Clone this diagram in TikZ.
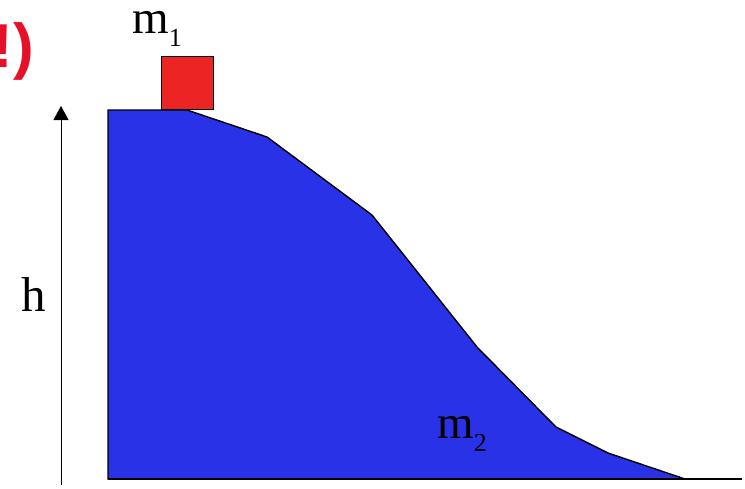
\documentclass[tikz,border=0pt]{standalone}
\usepackage{fontspec}
\setmainfont{Liberation Serif}
\newfontfamily\alertfont{Liberation Sans}
\usetikzlibrary{arrows.meta}
\definecolor{slopeblue}{RGB}{42,50,232}
\definecolor{blockred}{RGB}{236,36,36}
\definecolor{alertred}{RGB}{230,16,40}
\newcommand{\masslabel}[1]{m\raisebox{-13pt}{\fontsize{26}{26}\selectfont #1}}
\tikzset{
  lbl/.style={anchor=base west,inner sep=0pt,font=\fontsize{47}{47}\selectfont},
  outline/.style={draw=black,line width=1.4pt,line join=miter}
}
\begin{document}
\begin{tikzpicture}[x=1pt,y=-1pt]
\useasboundingbox (0,0) rectangle (745,488);
% hill
\fill[slopeblue,outline] (108,110) -- (187,110) -- (267,137) -- (372,215) -- (477,347)
  -- (556,427) -- (608,453) -- (685,479) -- (108,479) -- cycle;
\draw[line width=1.4pt] (108,479) -- (742,479);
% block on top
\node[fill=blockred,outline,anchor=south west,inner sep=0pt,minimum width=52pt,minimum height=53pt] (block) at (161,110) {};
\node[lbl] (mone) at (132,33) {\masslabel{1}};
\node[lbl] (mtwo) at (437,438) {\masslabel{2}};
% height
\coordinate (hbot) at (61,485);
\coordinate (htop) at (61,106);
\draw[line width=0.9pt,-{Triangle[length=14pt,width=15pt]}] (hbot) -- (htop);
\node[lbl,font=\fontsize{49}{49}\selectfont] (hlbl) at (21,311) {h};
% cut-off remark
\node[anchor=base east,inner sep=0pt,text=alertred,font=\alertfont\bfseries\fontsize{62}{62}\selectfont] (remark) at (34,67) {!)};
\end{tikzpicture}
\end{document}
